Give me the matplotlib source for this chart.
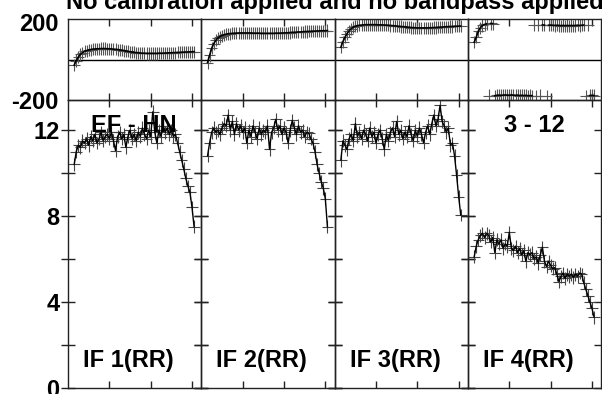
import numpy as np
import matplotlib
matplotlib.use('Agg')
import matplotlib.pyplot as plt
from matplotlib.transforms import ScaledTranslation

plt.rcParams['font.family'] = ['Liberation Sans', 'DejaVu Sans']

title = "No calibration applied and no bandpass applied"
baseline_label = "EF - HN"
time_label = "3 - 12"
if_labels = ["IF 1(RR)", "IF 2(RR)", "IF 3(RR)", "IF 4(RR)"]

channels = list(range(3, 62))

amp_if1 = [10.4, 11.0, 11.3, 11.2, 11.5, 11.4, 11.6, 11.3, 11.7, 11.5,
           11.8, 11.4, 11.6, 11.9, 11.5, 11.7, 11.8, 11.6, 11.9, 11.5,
           11.05, 11.7, 11.9, 11.6, 11.8, 11.2, 11.7, 12.0, 11.6, 11.8,
           11.5, 11.9, 11.7, 12.1, 11.8, 11.6, 12.0, 11.7, 12.85, 11.9,
           11.4, 12.0, 11.7, 12.2, 11.9, 12.1, 11.8, 12.0, 11.7, 11.8,
           11.4, 11.0, 10.6, 10.2, 9.75, 9.4, 9.1, 8.4, 7.5]
amp_if2 = [10.8, 11.4, 11.9, 12.1, 11.9, 12.0, 11.8, 12.1, 12.3, 12.2,
           12.7, 12.0, 12.4, 11.8, 12.3, 12.0, 12.2, 11.9, 12.1, 11.4,
           12.0, 11.7, 12.2, 11.9, 11.6, 12.1, 11.8, 12.0, 11.9, 12.2,
           11.1, 11.9, 12.1, 12.5, 12.0, 12.2, 11.8, 12.1, 11.9, 11.4,
           12.0, 12.45, 12.1, 11.8, 12.2, 11.9, 12.0, 11.7, 11.9, 11.85,
           11.6, 11.4, 11.0, 10.4, 10.0, 9.6, 9.3, 8.8, 7.5]
amp_if3 = [10.6, 11.5, 11.3, 11.1, 11.6, 11.8, 11.5, 12.3, 11.7, 11.9,
           11.6, 12.0, 11.8, 11.5, 12.1, 11.7, 11.9, 11.4, 11.8, 12.0,
           11.6, 11.1, 11.8, 11.5, 11.9, 12.1, 11.7, 12.4, 11.8, 12.0,
           11.6, 11.9, 11.7, 12.2, 11.8, 11.5, 12.0, 11.7, 12.1, 11.8,
           11.4, 11.9, 12.2, 11.8, 12.3, 12.7, 12.2, 12.5, 13.15, 12.4,
           12.2, 11.9, 12.1, 11.3, 11.4, 10.8, 9.9, 8.9, 8.05]
amp_if4 = [6.1, 6.6, 6.9, 7.1, 7.2, 7.0, 7.2, 7.1, 6.8, 7.0,
           6.3, 6.9, 6.7, 6.9, 6.5, 6.7, 6.6, 7.25, 6.5, 6.4,
           6.6, 6.3, 6.5, 6.2, 6.4, 5.9, 6.3, 6.2, 6.3, 6.0,
           6.1, 5.8, 6.2, 6.55, 5.9, 5.65, 5.9, 5.7, 5.55, 5.6,
           5.3, 4.95, 5.2, 5.35, 5.1, 5.3, 5.2, 5.3, 5.15, 5.3,
           5.2, 5.35, 5.3, 4.9, 4.6, 4.3, 4.0, 3.7, 3.3]

phase_if1 = [-28, -5, 12, 25, 34, 40, 44, 47, 49, 51,
             52, 53, 53, 54, 54, 54, 53, 53, 52, 51,
             50, 49, 47, 46, 44, 42, 40, 38, 37, 35,
             34, 33, 32, 31, 31, 30, 30, 30, 30, 30,
             30, 31, 31, 31, 32, 32, 33, 33, 34, 34,
             35, 35, 36, 36, 37, 37, 38, 38, 39]
phase_if2 = [-15, 20, 55, 78, 95, 106, 113, 118, 122, 125,
             127, 128, 129, 130, 130, 131, 131, 131, 131, 131,
             131, 131, 130, 130, 130, 130, 129, 129, 129, 129,
             129, 129, 129, 130, 130, 130, 131, 131, 132, 132,
             133, 134, 134, 135, 136, 136, 137, 138, 138, 139,
             139, 140, 140, 141, 141, 142, 142, 142, 143]
phase_if3 = [60, 88, 110, 128, 142, 152, 159, 164, 167, 169,
             170, 171, 172, 172, 172, 172, 172, 172, 171, 171,
             171, 170, 170, 169, 168, 167, 166, 165, 164, 163,
             162, 161, 160, 159, 158, 157, 157, 156, 156, 156,
             156, 156, 156, 157, 157, 158, 158, 159, 160, 160,
             161, 162, 162, 163, 163, 164, 164, 165, 165]
phase_if4 = [85, 110, 140, 157, 168, 173, 176, -178, 178, 177,
             -179, -177, -176, -177, -176, -175, -176, -177, -175, -176,
             -177, -176, -178, -177, -178, -177, -179, -178, -179, 171,
             -179, 170, -178, 171, 170, -179, 169, 170, 169, 168,
             169, 168, 167, 168, 167, 168, 167, 168, 167, 168,
             169, 168, 169, 170, -179, 171, -178, -177, -178]

amps = [amp_if1, amp_if2, amp_if3, amp_if4]
phases = [phase_if1, phase_if2, phase_if3, phase_if4]

amp_err = 0.3
phase_err = 30.0
chan_halfwidth = 2.8

W, H = 602, 394
fig = plt.figure(figsize=(W / 100, H / 100), dpi=100)

left0 = 68
pw = (601.3 - 68) / 4
ph_top, ph_bot = 19, 100
am_top, am_bot = 100, 388

fs = 17
edge = '#222222'

def fx(px):
    return px / W

def fy(py):
    return 1 - py / H

for i in range(4):
    x0 = left0 + i * pw
    axp = fig.add_axes([fx(x0), fy(ph_bot), fx(pw), (ph_bot - ph_top) / H])
    axa = fig.add_axes([fx(x0), fy(am_bot), fx(pw), (am_bot - am_top) / H])

    ch = np.array(channels, dtype=float)
    ph = np.array(phases[i], dtype=float)
    am = np.array(amps[i], dtype=float)

    # phase panel
    axp.axhline(0, color='black', lw=1.0, zorder=1)
    axp.errorbar(ch, ph, xerr=chan_halfwidth, yerr=phase_err, fmt='none',
                 ecolor='#555555', elinewidth=0.8, capsize=0, zorder=2)
    xs, ys = [ch[0]], [ph[0]]
    for k in range(1, len(ch)):
        if abs(ph[k] - ph[k - 1]) > 180:
            xs.append(np.nan); ys.append(np.nan)
        xs.append(ch[k]); ys.append(ph[k])
    axp.plot(xs, ys, color='black', lw=1.2, zorder=3)
    axp.set_xlim(0, 64.5)
    axp.set_ylim(-200, 200)
    axp.set_yticks([-200, 200])
    axp.set_xticks([20, 40, 60])
    axp.set_xticklabels([])
    axp.tick_params(axis='x', direction='in', length=5, width=1, top=True,
                    bottom=True, color=edge)
    axp.tick_params(axis='y', direction='inout', length=0, left=True, right=True)
    if i == 0:
        axp.set_yticklabels(['-200', '200'], fontsize=fs, fontweight='bold')
        axp.tick_params(axis='y', pad=7)
        top_lab = axp.get_yticklabels()[1]
        top_lab.set_transform(top_lab.get_transform() +
                              ScaledTranslation(0, -3 / 100, fig.dpi_scale_trans))
    else:
        axp.set_yticklabels([])

    # amplitude panel
    axa.errorbar(ch, am, xerr=chan_halfwidth, yerr=amp_err, fmt='none',
                 ecolor='#444444', elinewidth=0.8, capsize=0, zorder=2)
    axa.plot(ch, am, color='black', lw=1.0, zorder=3)
    axa.set_xlim(0, 64.5)
    axa.set_ylim(0, 13.4)
    axa.set_yticks([0, 2, 4, 6, 8, 10, 12])
    axa.set_xticks([20, 40, 60])
    axa.set_xticklabels([])
    axa.tick_params(axis='x', direction='in', length=5, width=1, top=True,
                    bottom=True, color=edge)
    axa.tick_params(axis='y', direction='inout', length=9.4, width=1,
                    left=True, right=True, color=edge)
    if i == 0:
        axa.set_yticklabels(['0', '', '4', '', '8', '', '12'], fontsize=fs,
                            fontweight='bold')
        axa.tick_params(axis='y', pad=1.5)
    else:
        axa.set_yticklabels([])

    for ax in (axp, axa):
        for s in ax.spines.values():
            s.set_linewidth(1.0)
            s.set_color(edge)
        ax.set_facecolor('none')

    axa.text(15 / pw, 0.96 / 13.4, if_labels[i], transform=axa.transAxes,
             fontsize=fs, fontweight='bold', ha='left', va='baseline', zorder=5)
    if i == 0:
        axa.text(0.49, 1 - (132.5 - am_top) / (am_bot - am_top), baseline_label,
                 transform=axa.transAxes, fontsize=fs, fontweight='bold',
                 ha='center', va='baseline', zorder=5)
    if i == 3:
        axa.text(0.5, 1 - (132.5 - am_top) / (am_bot - am_top), time_label,
                 transform=axa.transAxes, fontsize=fs, fontweight='bold',
                 ha='center', va='baseline', zorder=5)

fig.text(fx(66.5), fy(8.5), title, fontsize=fs, fontweight='bold',
         ha='left', va='baseline')

fig.savefig('out.png', dpi=100)
